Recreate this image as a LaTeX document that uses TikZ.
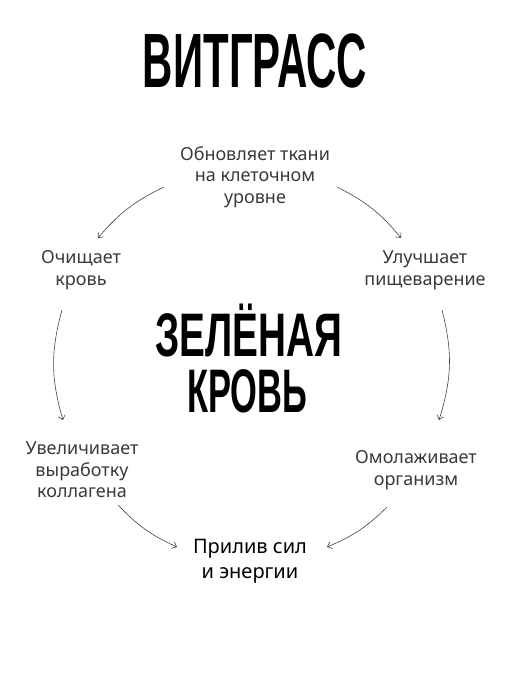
\documentclass[tikz,border=0pt]{standalone}
\usepackage{fontspec}
\usepackage{graphicx}
\setmainfont{Noto Sans}
\newfontfamily\titlefont{Liberation Sans}
\usetikzlibrary{arrows.meta}
\definecolor{txt}{HTML}{3A3A3A}
\definecolor{arr}{HTML}{444444}
\begin{document}
\begin{tikzpicture}[x=1pt,y=1pt,
  lbl/.style={font=\fontsize{18}{21.5}\selectfont, text=txt, align=center, inner sep=0pt},
  mainlbl/.style={font=\fontsize{20}{25}\selectfont, text=black, align=center, inner sep=0pt},
  big/.style={inner sep=0pt, anchor=base},
  conn/.style={draw=arr, line width=0.6pt, -{Straight Barb[length=4pt,width=7pt]}}]
\useasboundingbox (0,0) rectangle (512,683);
\fill[white] (0,0) rectangle (512,683);

\node[big, font=\titlefont\bfseries\fontsize{77}{77}\selectfont] (title) at (255,595) {\resizebox{224pt}{\height}{ВИТГРАСС}};
\node[big, font=\titlefont\bfseries\fontsize{61.5}{61.5}\selectfont] (green1) at (248.5,326) {\resizebox{187pt}{\height}{ЗЕЛЁНАЯ}};
\node[big, font=\titlefont\bfseries\fontsize{61.5}{61.5}\selectfont] (green2) at (247,270) {\resizebox{120pt}{\height}{КРОВЬ}};

\node[lbl] (top) at (255,506) {Обновляет ткани\\на клеточном\\уровне};
\node[lbl] (left1) at (81,413) {Очищает\\кровь};
\node[lbl] (right1) at (425,413) {Улучшает\\пищеварение};
\node[lbl] (left2) at (82,213) {Увеличивает\\выработку\\коллагена};
\node[lbl] (right2) at (416,213) {Омолаживает\\организм};
\node[mainlbl] (bottom) at (250,122) {Прилив сил\\и энергии};

\draw[conn] ([shift={(-91,-10)}]top.center) to[bend right=12] ([shift={(17,32)}]left1.center);
\draw[conn] ([shift={(82,-10)}]top.center) to[bend left=12] ([shift={(-24,32)}]right1.center);
\draw[conn] ([shift={(-19,-40)}]left1.center) to[bend right=16] ([shift={(-19,50)}]left2.center);
\draw[conn] ([shift={(17,-40)}]right1.center) to[bend left=16] ([shift={(23,50)}]right2.center);
\draw[conn] ([shift={(36,-35)}]left2.center) to[bend right=11] ([shift={(-73,14)}]bottom.center);
\draw[conn] ([shift={(-29,-37)}]right2.center) to[bend left=11] ([shift={(77,14)}]bottom.center);
\end{tikzpicture}
\end{document}
